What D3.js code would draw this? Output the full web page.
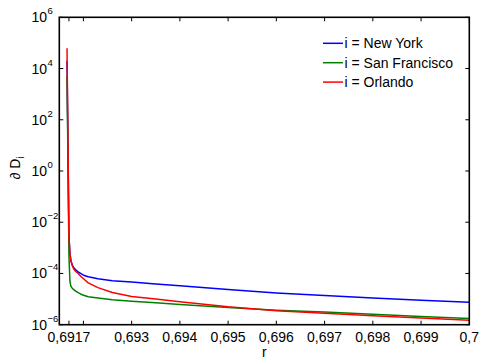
<!DOCTYPE html>
<html><head><meta charset="utf-8">
<script src="https://cdn.jsdelivr.net/npm/d3@7"></script>
<style>body{margin:0;background:#fff}svg{display:block}text{font-family:"Liberation Sans",Arial,sans-serif;fill:#000}</style>
</head><body><svg id="c" width="481" height="359"></svg>
<script>
const r = [0.69166,0.69168,0.6917,0.69172,0.69174,0.69177,0.6918,0.69184,0.69189,0.69195,0.69202,0.6921,0.6923,0.6926,0.693,0.6935,0.694,0.695,0.696,0.697,0.698,0.699,0.7];
const newYork = [1.95e4,6.3,2.8e-3,6.3e-4,3.2e-4,2.1e-4,1.66e-4,1.38e-4,1.15e-4,9.8e-5,8.3e-5,7.4e-5,6.2e-5,5.2e-5,4.6e-5,3.9e-5,3.3e-5,2.35e-5,1.74e-5,1.38e-5,1.1e-5,9.1e-6,7.6e-6];
const sanFrancisco = [5.1e3,2.0,5.0e-4,5.0e-5,3.2e-5,2.6e-5,2.35e-5,2.04e-5,1.78e-5,1.55e-5,1.38e-5,1.23e-5,1.1e-5,9.5e-6,8.3e-6,7.2e-6,6.2e-6,4.7e-6,3.7e-6,3.1e-6,2.54e-6,2.1e-6,1.74e-6];
const orlando = [6.2e4,12.6,2.8e-3,6.3e-4,3.2e-4,2.0e-4,1.5e-4,1.2e-4,1.0e-4,7.6e-5,5.8e-5,4.3e-5,2.8e-5,1.8e-5,1.26e-5,1.0e-5,7.9e-6,5.0e-6,3.5e-6,2.8e-6,2.26e-6,1.82e-6,1.48e-6];
const seriesNames = ["i = New York","i = San Francisco","i = Orlando"];
const seriesColors = ["#0000ff","#008000","#ff0000"];
const xTicks = [0.6917,0.692,0.693,0.694,0.695,0.696,0.697,0.698,0.699,0.7];
const xTickLabels = ["0,6917","","0,693","0,694","0,695","0,696","0,697","0,698","0,699","0,7"];
const yTickExps = [-6,-4,-2,0,2,4,6];

const L=59.3,R=469.3,T=17.3,B=324.7;
const svg=d3.select("#c");
const x=d3.scaleLinear().domain([0.6915,0.7]).range([L,R]);
const y=d3.scaleLog().domain([1e-6,1e6]).range([B,T]);

const clip=svg.append("clipPath").attr("id","cl").append("rect").attr("x",L).attr("y",T).attr("width",R-L).attr("height",B-T);
const line=d3.line().x((d,i)=>x(r[i])).y(d=>y(d));
const g=svg.append("g").attr("clip-path","url(#cl)");
[newYork,sanFrancisco,orlando].forEach((s,k)=>{
  g.append("path").attr("d",line(s)).attr("fill","none").attr("stroke",seriesColors[k]).attr("stroke-width",1.5).attr("stroke-linejoin","round");
});

// axes
const tl=4;
const ax=svg.append("g").attr("stroke","#000").attr("stroke-width",1);
xTicks.forEach(t=>{
  const px=x(t);
  ax.append("line").attr("x1",px).attr("x2",px).attr("y1",B).attr("y2",B-tl);
  ax.append("line").attr("x1",px).attr("x2",px).attr("y1",T).attr("y2",T+tl);
});
yTickExps.forEach(e=>{
  const py=y(Math.pow(10,e));
  ax.append("line").attr("x1",L).attr("x2",L+tl).attr("y1",py).attr("y2",py);
  ax.append("line").attr("x1",R).attr("x2",R-tl).attr("y1",py).attr("y2",py);
});
svg.append("rect").attr("x",L).attr("y",T).attr("width",R-L).attr("height",B-T).attr("fill","none").attr("stroke","#000").attr("stroke-width",1.6);

xTicks.forEach((t,i)=>{
  svg.append("text").attr("x",x(t)).attr("y",B+17).attr("text-anchor","middle").attr("font-size",14).text(xTickLabels[i]);
});
yTickExps.forEach(e=>{
  const py=y(Math.pow(10,e));
  svg.append("text").attr("x",47).attr("y",py+5).attr("text-anchor","end").attr("font-size",14).text("10");
  svg.append("text").attr("x",47.5).attr("y",py-3).attr("font-size",9.5).text(e<0?"\u2212"+(-e):String(e));
});
svg.append("text").attr("x",(L+R)/2).attr("y",357).attr("text-anchor","middle").attr("font-size",14).text("r");
const yl=svg.append("text").attr("transform","translate(20,168) rotate(-90)").attr("text-anchor","middle").attr("font-size",14);
yl.append("tspan").text("\u2202 D");
yl.append("tspan").attr("font-size",10).attr("dy",4).text("i");

const lg=svg.append("g");
seriesNames.forEach((n,k)=>{
  const yy=43.3+k*19.4;
  lg.append("line").attr("x1",323).attr("x2",343).attr("y1",yy).attr("y2",yy).attr("stroke",seriesColors[k]).attr("stroke-width",1.5);
  lg.append("text").attr("x",344.5).attr("y",yy+5).attr("font-size",14).text(n);
});
</script></body></html>
